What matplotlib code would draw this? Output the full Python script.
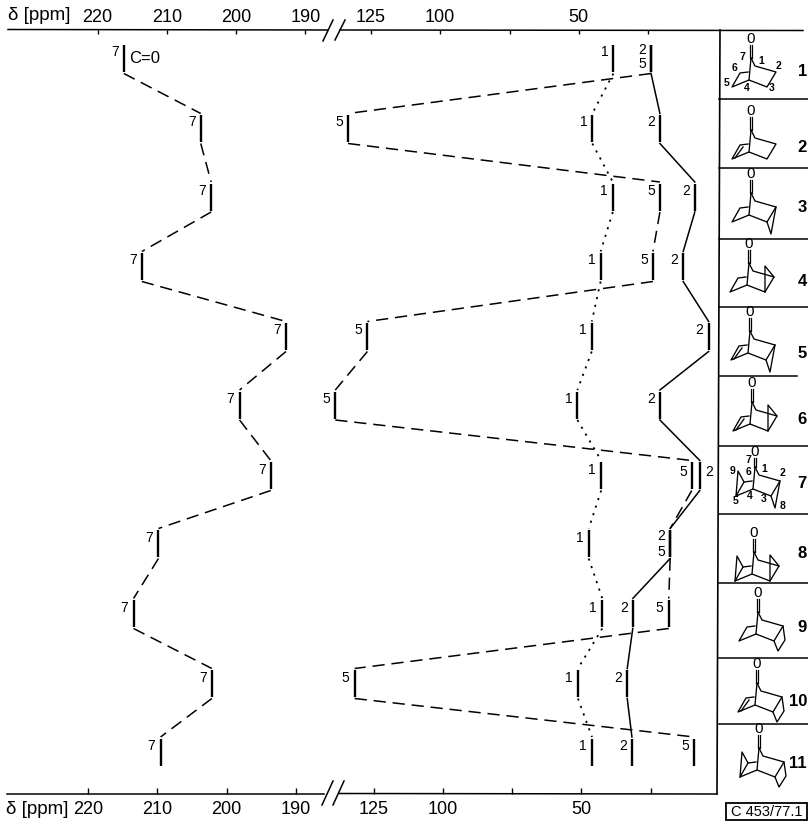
import matplotlib
matplotlib.use("Agg")
import matplotlib.pyplot as plt
from matplotlib.patches import Rectangle
import numpy as np

plt.rcParams['font.family'] = ['Liberation Sans Narrow', 'Liberation Sans', 'DejaVu Sans']

# chemical shifts per compound 1..11 (ppm)
c7_ppm = [216.2, 205.1, 203.6, 213.6, 192.8, 199.5, 195.0, 211.2, 214.8, 203.5, 210.9]
c5_ppm = [23.9, 133.3, 20.7, 23.2, 126.3, 137.9, 9.2, 17.0, 17.5, 130.9, 8.3]
c1_ppm = [37.5, 45.1, 37.7, 42.1, 45.3, 50.5, 41.9, 46.4, 41.5, 50.3, 45.2]
c2_ppm = [23.9, 20.7, 8.1, 12.3, 3.1, 20.7, 6.3, 17.0, 30.5, 32.5, 30.8]

row_y = [58.5, 128.5, 197, 266.5, 336.5, 405, 475.5, 543.5, 613.5, 683.5, 752]
compounds = ['1', '2', '3', '4', '5', '6', '7', '8', '9', '10', '11']
tick_ppm = [220, 210, 200, 190, 125, 100, 75, 50, 25]
tick_text = ['220', '210', '200', '190', '125', '100', '', '50', '']

W, H = 808, 825
TOP, BOT = 30, 794
HALF = 13.5


def make_scale(left0, right0):
    # broken axis, 190+ is stretched, below the break is compressed
    # negative because matplotlib wants the scale rising with ppm on a reversed axis
    def fwd(p):
        p = np.asarray(p, dtype=float)
        return -np.where(p >= 165, left0 + (220 - p) * 6.93, right0 + (125 - p) * 2.77)

    def inv(x):
        x = -np.asarray(x, dtype=float)
        return np.where(x < 330, 220 - (x - left0) / 6.93, 125 - (x - right0) / 2.77)
    return fwd, inv


fig = plt.figure(figsize=(W / 100, H / 100), dpi=100)
ax = fig.add_axes([0, (H - BOT) / H, 1, (BOT - TOP) / H])
ax.set_facecolor('none')
bot = ax.twiny()

top_f = make_scale(97.5, 371)
ax.set_xscale('function', functions=top_f)
ax.set_xlim(float(top_f[1](0)), float(top_f[1](-W)))
ax.set_ylim(BOT, TOP)
ax.set_yticks([])
ax.xaxis.tick_top()
ax.set_xticks(tick_ppm)
ax.set_xticklabels(tick_text, fontsize=13)
ax.xaxis.set_minor_locator(plt.NullLocator())
ax.tick_params(axis='x', direction='in', length=3, width=1, pad=3)

bot_f = make_scale(88, 373.5)
bot.set_xscale('function', functions=bot_f)
bot.set_xlim(float(bot_f[1](0)), float(bot_f[1](-W)))
bot.xaxis.tick_bottom()
bot.set_xticks(tick_ppm)
bot.set_xticklabels(tick_text, fontsize=13)
bot.xaxis.set_minor_locator(plt.NullLocator())
bot.tick_params(axis='x', direction='in', length=4, width=1, pad=5)
for a in (ax, bot):
    for s in a.spines.values():
        s.set_visible(False)

# vertical marks + connectors for each carbon
series = [(c7_ppm, '7', (8, 4.5), 1.1), (c5_ppm, '5', (8, 4.5), 1.1),
          (c1_ppm, '1', (1.2, 3.2), 1.3), (c2_ppm, '2', None, 1.1)]
label_moves = {('2', 0): (-9, 8.5), ('5', 0): (-9, -5.5), ('2', 7): (-9, 7.5), ('5', 7): (-9, -8.5),
               ('2', 6): (9, 4), ('5', 6): (-8, 4)}
for vals, name, dash, lw in series:
    for i, (v, y) in enumerate(zip(vals, row_y)):
        ax.plot([v, v], [y - HALF, y + HALF], color='black', lw=1.7, solid_capstyle='butt')
        dx, dy = label_moves.get((name, i), (-9, 6))
        ax.annotate(name, (v, y), xytext=(dx, dy), textcoords='offset pixels', fontsize=10,
                    ha='center', va='center')
        if i < len(vals) - 1:
            line, = ax.plot([v, vals[i + 1]], [y + HALF + 1.5, row_y[i + 1] - HALF - 1.5],
                            color='black', lw=lw)
            if dash:
                line.set_dashes(dash)
ax.annotate('C=0', (c7_ppm[0], row_y[0]), xytext=(5, 0), textcoords='offset pixels',
            fontsize=12, ha='left', va='center')

# overlay in pixels for axis rules, frame and the formulas
ov = fig.add_axes([0, 0, 1, 1])
ov.set_xlim(0, W)
ov.set_ylim(H, 0)
ov.axis('off')
ov.patch.set_alpha(0)


def seg(pts, lw=1.0):
    xs, ys = zip(*pts)
    ov.plot(xs, ys, color='black', lw=lw, solid_joinstyle='round')


seg([(8, 29.5), (328, 30)], 1.1)
seg([(340, 30), (803, 30.5)], 1.1)
seg([(7, 793.5), (324, 793.5)], 1.1)
seg([(339, 793.5), (717, 794)], 1.1)
seg([(323, 41), (333, 20)], 1.1)
seg([(335, 40), (345, 20)], 1.1)
seg([(322, 805), (333, 781)], 1.1)
seg([(333, 805), (344, 781)], 1.1)
ov.text(8, 16, 'δ [ppm]', fontsize=13.5, ha='left', va='center')
ov.text(6, 810, 'δ [ppm]', fontsize=13.5, ha='left', va='center')

# compound panel
seg([(720, 30), (717, 794)], 1.2)
sep_y = [99, 168, 239, 307, 376, 446, 514, 583, 658, 724]
for y in sep_y:
    seg([(719, y), (797 if y == 376 else W, y)], 1.1)

num_y = [71, 147, 208, 282, 354, 420, 483, 553, 628, 702, 763]
for t, y in zip(compounds, num_y):
    ov.text(807, y, t, fontsize=12, fontweight='bold', ha='right', va='center')

C1, C2, C3, C4, C5, C6, C6E = (4, 8), (25, 14), (16, 29), (-2, 22), (-19, 29), (-11, 15), (-3, 14)
formulas = [
    (751, 58, 19, {}),
    (751, 130, 19, {'ene': 1}),
    (751, 193, 19, {'cp_down': 1}),
    (749, 263, 19, {'cp_up': 1}),
    (750, 331, 19, {'ene': 1, 'cp_down': 1}),
    (752, 402, 19, {'ene': 1, 'cp_up': 1}),
    (755, 467, 15, {'cp_down': 1, 'cp_left': 1}),
    (754, 552, 19, {'cp_up': 1, 'cp_left': 1}),
    (758, 612, 19, {'cb': 1}),
    (757, 683, 19, {'ene': 1, 'cb': 1}),
    (759, 748, 19, {'cp_left': 1, 'cb': 1}),
]
for cx, cy, o_off, opts in formulas:
    def shape(pts, lw=0.95):
        seg([(cx + a, cy + b) for a, b in pts], lw)
    shape([(-1, -o_off + 6), (-1, 0)], 0.9)
    shape([(1, -o_off + 6), (1, 0)], 0.9)
    ov.text(cx, cy - o_off, '0', fontsize=11, ha='center', va='center')
    shape([(0, 0), C4])
    shape([(0, 0), C1, C2, C3, C4, C5, C6, C6E])
    if opts.get('ene'):
        shape([(C5[0] + 3, C5[1] - 1), (C6[0] + 3, C6[1] + 2)])
    if opts.get('cp_down'):
        shape([C2, (20, 41), C3])
    if opts.get('cp_up'):
        shape([C2, (16, 3), C3])
    if opts.get('cp_left'):
        shape([C5, (-17, 4), C6])
    if opts.get('cb'):
        shape([C2, (27, 28), (20, 39), C3])

# atom numbers on formulas 1 and 7
for t, x, y in [('7', 742, 57), ('1', 761, 61), ('2', 778, 66), ('3', 772, 88), ('4', 747, 88),
                ('5', 727, 83), ('6', 735, 68)]:
    ov.text(x, y, t, fontsize=7.5, fontweight='bold', ha='center', va='center')
for t, x, y in [('7', 748, 460), ('1', 764, 469), ('2', 782, 473), ('3', 764, 499), ('4', 750, 496),
                ('5', 736, 501), ('6', 748, 472), ('8', 783, 506), ('9', 732, 471)]:
    ov.text(x, y, t, fontsize=7.5, fontweight='bold', ha='center', va='center')

ov.add_patch(Rectangle((726, 803), 81, 17, fill=False, lw=1.3, ec='black'))
ov.text(766.5, 811.5, 'C 453/77.1', fontsize=10.5, ha='center', va='center')

fig.savefig('out.png', dpi=100)
